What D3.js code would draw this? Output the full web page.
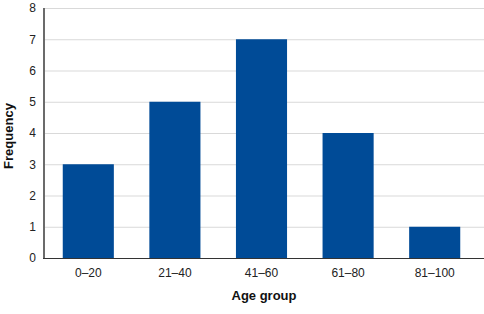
<!DOCTYPE html>
<html><head><meta charset="utf-8">
<script src="https://cdn.jsdelivr.net/npm/d3@7"></script>
<style>body{margin:0;background:#fff}svg{display:block}text{font-family:"Liberation Sans",Arial,sans-serif}</style>
</head><body>
<svg id="c" width="484" height="314"></svg>
<script>
const categories = ["0–20","21–40","41–60","61–80","81–100"];
const frequencies = [3,5,7,4,1];
const yTicks = [0,1,2,3,4,5,6,7,8];

(function(){
const svg = d3.select("#c");
const mLeft = 44, mTop = 8, mBottom = 258, mRight = 484;
const x = d3.scaleBand().domain(categories).range([45,478]).paddingInner(0.41).paddingOuter(0.205);
const y = d3.scaleLinear().domain([0,8]).range([mBottom, mTop]);

// gridlines
svg.append("g").selectAll("line").data(yTicks.filter(d=>d>0)).join("line")
  .attr("x1", mLeft).attr("x2", mRight)
  .attr("y1", d=>y(d)+0.5).attr("y2", d=>y(d)+0.5)
  .attr("stroke", "#d9d9d9").attr("stroke-width", 1);

// bars
svg.append("g").selectAll("rect").data(frequencies).join("rect")
  .attr("x", (d,i)=>x(categories[i]))
  .attr("width", x.bandwidth())
  .attr("y", d=>y(d))
  .attr("height", d=>mBottom - y(d))
  .attr("fill", "#004b97");

// y axis
const yAxis = svg.append("g").attr("transform", `translate(${mLeft},0)`)
  .call(d3.axisLeft(y).tickValues(yTicks).tickSize(0).tickPadding(8).tickFormat(d3.format("d")));
yAxis.select(".domain").remove();
yAxis.selectAll("text").attr("font-size", 12).attr("fill", "#222");

// x axis
const xAxis = svg.append("g").attr("transform", `translate(0,${mBottom})`)
  .call(d3.axisBottom(x).tickSize(0).tickPadding(10));
xAxis.select(".domain").remove();
xAxis.selectAll("text").attr("font-size", 12).attr("fill", "#222");

// axis lines
svg.append("line").attr("x1", mLeft).attr("x2", mLeft).attr("y1", mTop).attr("y2", mBottom+1)
  .attr("stroke", "#6b6b6b").attr("stroke-width", 2);
svg.append("line").attr("x1", mLeft-1).attr("x2", mRight).attr("y1", mBottom+0.5).attr("y2", mBottom+0.5)
  .attr("stroke", "#333").attr("stroke-width", 1.2);

// titles
svg.append("text").attr("x", 264).attr("y", 300).attr("text-anchor","middle")
  .attr("font-size", 13).attr("font-weight","bold").attr("fill","#111").text("Age group");
svg.append("text").attr("transform", "translate(13,136) rotate(-90)").attr("text-anchor","middle")
  .attr("font-size", 13).attr("font-weight","bold").attr("fill","#111").text("Frequency");
})();
</script>
</body></html>
